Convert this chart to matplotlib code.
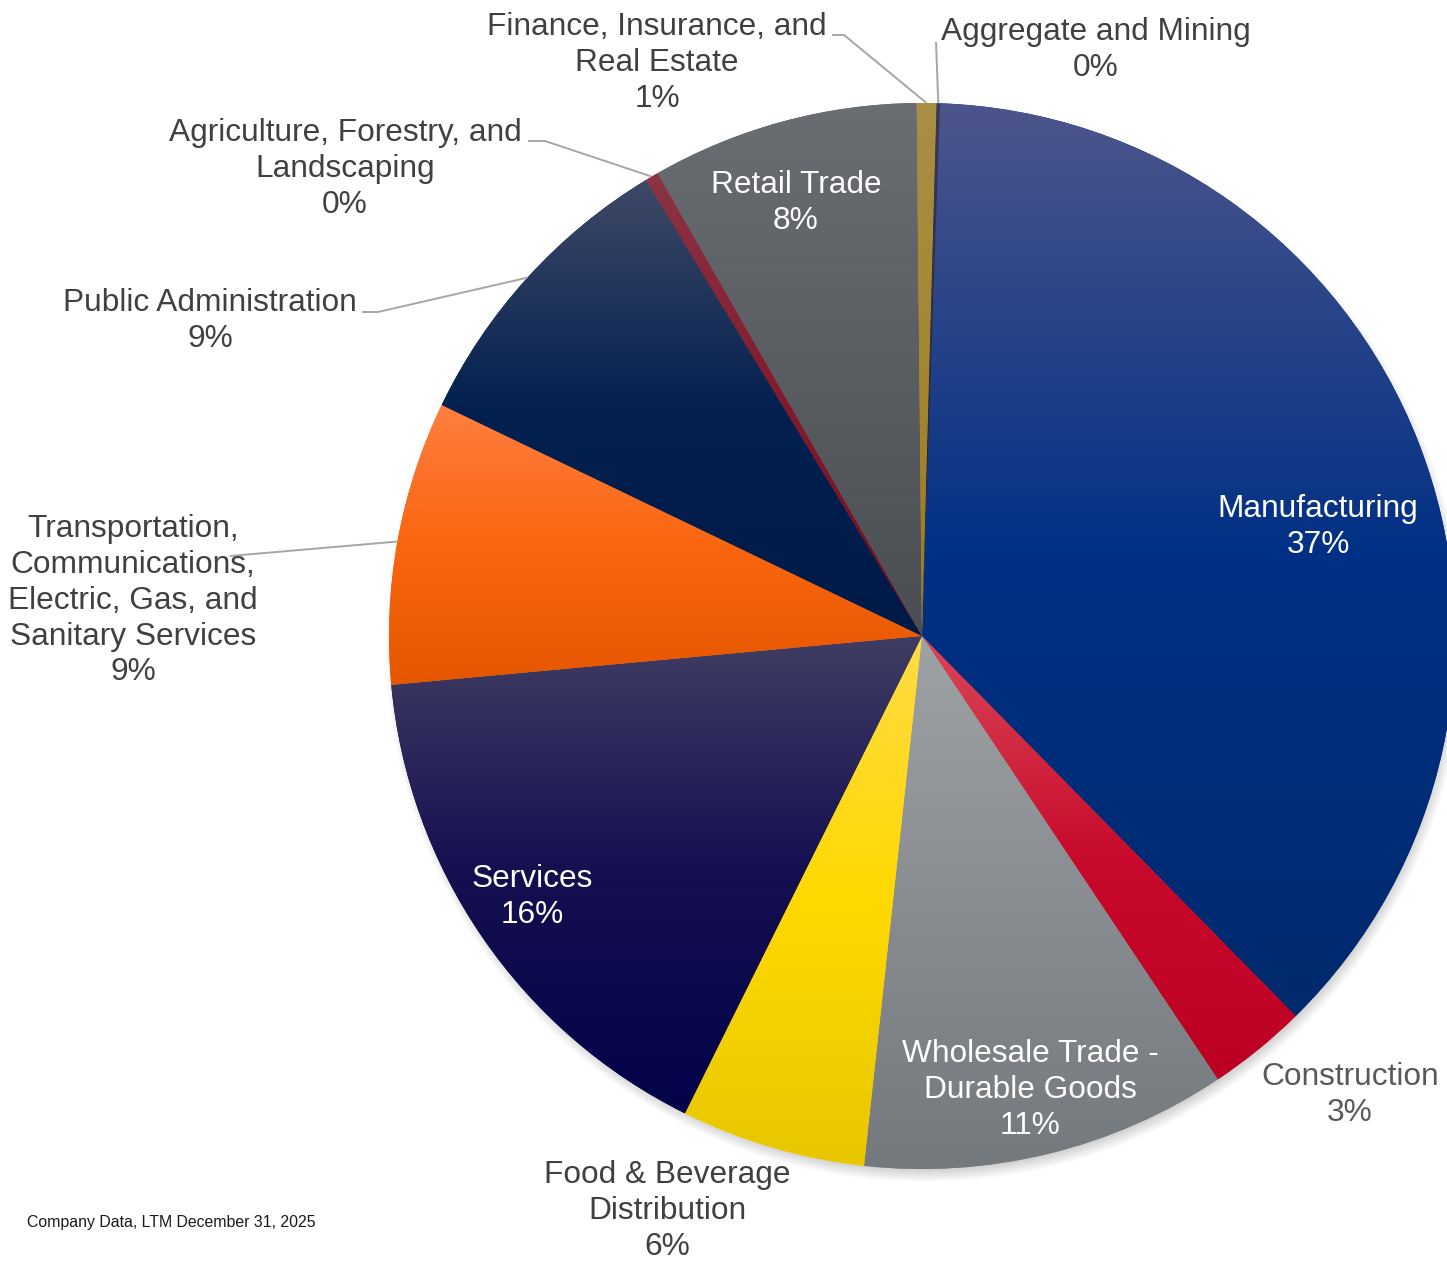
import numpy as np
import matplotlib.pyplot as plt
from matplotlib.colors import LinearSegmentedColormap

W, H = 1447, 1261

# Industry mix, clockwise from the top
sectors = [
    "Manufacturing",
    "Construction",
    "Wholesale Trade -\nDurable Goods",
    "Food & Beverage\nDistribution",
    "Services",
    "Transportation,\nCommunications,\nElectric, Gas, and\nSanitary Services",
    "Public Administration",
    "Agriculture, Forestry, and\nLandscaping",
    "Retail Trade",
    "Finance, Insurance, and\nReal Estate",
    "Aggregate and Mining",
]
shares = [37.1, 3.0, 11.1, 5.6, 16.2, 8.6, 9.2, 0.4, 8.1, 0.6, 0.1]

# gradient stops per slice (top, middle, bottom)
grad_top = ["#4c558b", "#da4757", "#9ea2a5", "#ffdb45", "#403d63",
            "#ff7e40", "#3f4967", "#8c3444", "#6a6d71", "#aa8e44", "#3a3a55"]
grad_mid = ["#003085", "#c80a2c", "#898d91", "#ffd900", "#140f50",
            "#fa6610", "#03204f", "#821a2c", "#5a5e62", "#a48630", "#2a2a45"]
grad_bot = ["#002a6c", "#bc0024", "#74797d", "#e8c700", "#03034a",
            "#e45700", "#001a47", "#760a20", "#4a4e52", "#9c7c20", "#202038"]

inside = [True, False, True, False, True, False, False, False, True, False, False]
# label block centres, pixels from the top-left corner
label_xy = [(1318, 527), (1350, 1095), (1030, 1090), (667, 1211), (532, 897),
            (133, 601), (210, 321), (345, 169), (796, 203), (657, 63), (1096, 50)]
# leader line points on the label side (pixels from top-left)
leaders = {
    5: [(230, 556)],
    6: [(362, 312), (378, 312)],
    7: [(528, 141), (545, 141)],
    9: [(832, 35), (844, 35)],
    10: [(936, 42)],
}

fig = plt.figure(figsize=(W / 100, H / 100), dpi=100)
ax = fig.add_axes([0, 0, 1, 1])

cx, cy, R = 922, H - 636, 533

# soft drop shadow under the pie
n = 700
xs = np.linspace(cx - R - 40, cx + R + 40, n)
ys = np.linspace(cy - R - 40, cy + R + 40, n)
X, Y = np.meshgrid(xs, ys)
dist = np.hypot(X - (cx + 3), Y - (cy - 7))
alpha = np.clip((R + 7 - dist) / 16, 0, 1) * 0.4
shadow = np.zeros((n, n, 4))
shadow[..., :3] = 0.45
shadow[..., 3] = alpha
ax.imshow(shadow, extent=[xs[0], xs[-1], ys[0], ys[-1]], origin="lower",
          zorder=0, interpolation="bilinear")

wedges, _ = ax.pie(shares, startangle=90 - 1.93, counterclock=False, radius=R,
                   center=(cx, cy), colors=grad_mid,
                   wedgeprops=dict(linewidth=0, zorder=1))

grad = np.linspace(0, 1, 256).reshape(-1, 1)
for i, w in enumerate(wedges):
    t = np.radians(np.linspace(w.theta1, w.theta2, 200))
    px = np.append(cx + R * np.cos(t), cx)
    py = np.append(cy + R * np.sin(t), cy)
    cmap = LinearSegmentedColormap.from_list(f"g{i}", [grad_top[i], grad_mid[i], grad_bot[i]])
    im = ax.imshow(grad, cmap=cmap, extent=[px.min(), px.max(), py.min(), py.max()],
                   origin="upper", aspect="auto", zorder=2, interpolation="bilinear")
    im.set_clip_path(w)

# leader lines to the slice mid-angle on the rim
for i, pts in leaders.items():
    w = wedges[i]
    mid = np.radians((w.theta1 + w.theta2) / 2)
    lx = [p[0] for p in pts] + [cx + R * np.cos(mid)]
    ly = [H - p[1] for p in pts] + [cy + R * np.sin(mid)]
    ax.plot(lx, ly, color="#a6a6a6", lw=1.4, zorder=3, solid_capstyle="butt")

for i, name in enumerate(sectors):
    txt = f"{name}\n{round(shares[i])}%"
    if inside[i]:
        col = "white"
    elif i == 1:
        col = "#595959"
    else:
        col = "#404040"
    x, y = label_xy[i]
    ax.text(x, H - y, txt, ha="center", va="center", fontsize=22.8, color=col,
            family="Liberation Sans", linespacing=1.25, zorder=4)

ax.text(27, H - 1222, "Company Data, LTM December 31, 2025", ha="left", va="center",
        fontsize=11.4, color="#1a1a1a", family="Liberation Sans")

ax.set_xlim(0, W)
ax.set_ylim(0, H)
ax.set_aspect("auto")
ax.axis("off")

fig.savefig("out.png", dpi=100, facecolor="white")
